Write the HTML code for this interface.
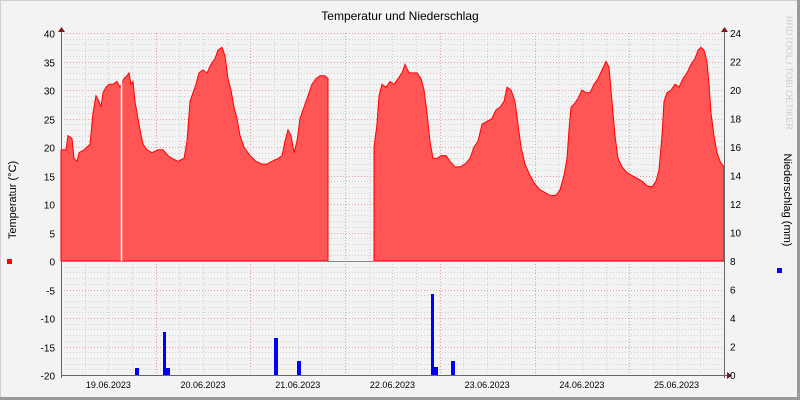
<!DOCTYPE html>
<html><head><meta charset="utf-8"><style>
html,body{margin:0;padding:0;width:800px;height:400px;overflow:hidden;background:#f3f3f3}
svg{display:block;font-family:"Liberation Sans",sans-serif}
</style></head><body>
<svg id="s" width="800" height="400" xmlns="http://www.w3.org/2000/svg">
<rect x="0" y="0" width="800" height="400" fill="#f3f3f3"/>
<rect x="0.5" y="0.5" width="799" height="399" fill="none" stroke="#cfcfcf"/>
<rect x="797" y="0" width="3" height="400" fill="#9a9a9a"/>
<rect x="0" y="397" width="800" height="3" fill="#9a9a9a"/>
<g id="grid"></g>
<polygon id="area" fill="#ff5555" stroke="#ff0000" stroke-width="1"/>
<line x1="121.5" y1="72" x2="121.5" y2="261" stroke="#ffffff" stroke-width="1.5"/>
<g fill="#0000ff">
<rect x="135" y="368" width="4" height="7"/>
<rect x="163" y="332" width="3" height="43"/>
<rect x="166" y="368" width="4" height="7"/>
<rect x="274" y="338" width="4" height="37"/>
<rect x="297" y="361" width="4" height="14"/>
<rect x="431" y="294" width="3" height="81"/>
<rect x="434" y="367" width="4" height="8"/>
<rect x="451" y="361" width="4" height="14"/>
</g>
<line x1="61" y1="261.5" x2="724" y2="261.5" stroke="#888"/>
<line x1="61" y1="375.5" x2="727" y2="375.5" stroke="#666"/>
<line x1="61.5" y1="30" x2="61.5" y2="378" stroke="#666"/>
<line x1="724.5" y1="30" x2="724.5" y2="378" stroke="#666"/>
<polygon points="58,32 65,32 61.5,27" fill="#7a1a1a"/>
<polygon points="721,32 728,32 724.5,27" fill="#7a1a1a"/>
<polygon points="727,372 727,379 732,375.5" fill="#7a1a1a"/>
<g id="labels" font-size="10" fill="#000"></g>
<text x="400" y="20" font-size="12" text-anchor="middle">Temperatur und Niederschlag</text>
<text transform="translate(16,200) rotate(-90)" font-size="11" text-anchor="middle">Temperatur (°C)</text>
<rect x="7" y="259" width="5" height="5" fill="#ff0000"/>
<text transform="translate(784,200) rotate(90)" font-size="11" text-anchor="middle">Niederschlag (mm)</text>
<rect x="777" y="268" width="5" height="5" fill="#0000ff"/>
<text transform="translate(786,16) rotate(90)" font-size="9" fill="#cccccc">RRDTOOL / TOBI OETIKER</text>
</svg>
<script>
var ns="http://www.w3.org/2000/svg";
function el(p,t,a,txt){var e=document.createElementNS(ns,t);for(var k in a)e.setAttribute(k,a[k]);if(txt)e.textContent=txt;p.appendChild(e);return e;}
var g=document.getElementById('grid'),L=document.getElementById('labels');
var x0=61,day=94.7;
function yT(t){return 261-5.7*t;}
for(var t=-20;t<=40;t++){var y=Math.round(yT(t))+0.5;var maj=(t%5==0);
 el(g,'line',{x1:61,x2:724,y1:y,y2:y,stroke:maj?'#e2a0a0':'#d0d0d0','stroke-dasharray':'1,2','stroke-width':1});
 if(maj){el(L,'text',{x:55,y:y+4,'text-anchor':'end'},String(t));}}
for(var m=0;m<=24;m+=2){var y=375-14.25*m;el(L,'text',{x:730,y:y+4},String(m));}
for(var i=0;i<=28;i++){var x=Math.round(x0+i*day/4)+0.5;var maj=(i%4==0);
 el(g,'line',{x1:x,x2:x,y1:33,y2:375,stroke:maj?'#e2a0a0':'#d0d0d0','stroke-dasharray':'1,2'});}
var d=['19','20','21','22','23','24','25'];
for(var i=0;i<7;i++){el(L,'text',{x:x0+day*(i+0.5),y:388,'text-anchor':'middle','font-size':9},d[i]+'.06.2023');}
var seg1=[[61,19.5],[66,19.5],[68,22],[72,21.5],[74,18],[77,17.5],[79,19],[84,19.5],[90,20.5],[93,26],[96,29],[99,28],[101,27],[103,29.5],[106,30.5],[109,31],[113,31],[117,31.5],[120,30.5],[124,32],[127,32.5],[129,33],[131,31],[133,31.5],[135,28],[137,26],[140,23],[143,20.5],[147,19.5],[152,19],[158,19.5],[163,19.5],[168,18.5],[172,18],[178,17.5],[184,18],[187,21],[190,28],[193,29.5],[196,31],[199,33],[203,33.5],[207,33],[211,34.5],[215,35.5],[218,37],[222,37.5],[225,36],[228,32],[231,30],[234,27],[237,25],[240,22],[244,20],[250,18.5],[256,17.5],[262,17],[267,17],[272,17.5],[278,18],[282,18.5],[285,21],[288,23],[291,22],[294,19],[297,21],[300,25],[304,27],[308,29],[312,31],[316,32],[320,32.5],[325,32.5],[328,32]];
var seg2=[[374,20],[377,24],[379,29],[382,31],[386,30.5],[390,31.5],[394,31],[398,32],[402,33],[405,34.5],[409,33],[413,33],[417,33],[421,32],[424,30],[427,26],[430,21],[433,18],[437,18],[441,18.5],[446,18.5],[450,17.5],[455,16.5],[460,16.5],[465,17],[470,18],[474,20],[478,21],[482,24],[487,24.5],[492,25],[496,26.5],[500,27],[504,28],[507,30.5],[511,30],[515,28],[518,24],[521,20],[525,17],[530,15],[535,13.5],[540,12.5],[545,12],[550,11.5],[556,11.5],[560,12.5],[564,15],[567,18],[569,23],[571,27],[574,27.5],[578,28.5],[582,30],[586,29.5],[590,29.5],[594,31],[598,32],[602,33.5],[606,35],[609,34],[612,28],[615,22],[618,18],[622,16.5],[627,15.5],[632,15],[637,14.5],[642,14],[647,13.2],[652,13],[656,14],[659,16],[662,22],[664,28],[667,29.5],[671,30],[675,31],[679,30.5],[683,32],[687,33],[691,34.5],[695,35.5],[698,37],[701,37.5],[704,37],[707,35],[709,31],[711,26],[714,22],[717,19],[720,17.5],[724,16.5]];
function pts(s){var a=[[s[0][0],261]];s.forEach(function(p){a.push([p[0],yT(p[1])]);});a.push([s[s.length-1][0],261]);return a.map(function(p){return p[0]+','+p[1].toFixed(1)}).join(' ');}
var area=document.getElementById('area');area.setAttribute('points',pts(seg1));
var a2=area.cloneNode();a2.setAttribute('points',pts(seg2));area.parentNode.insertBefore(a2,area.nextSibling);
</script>
</body></html>
